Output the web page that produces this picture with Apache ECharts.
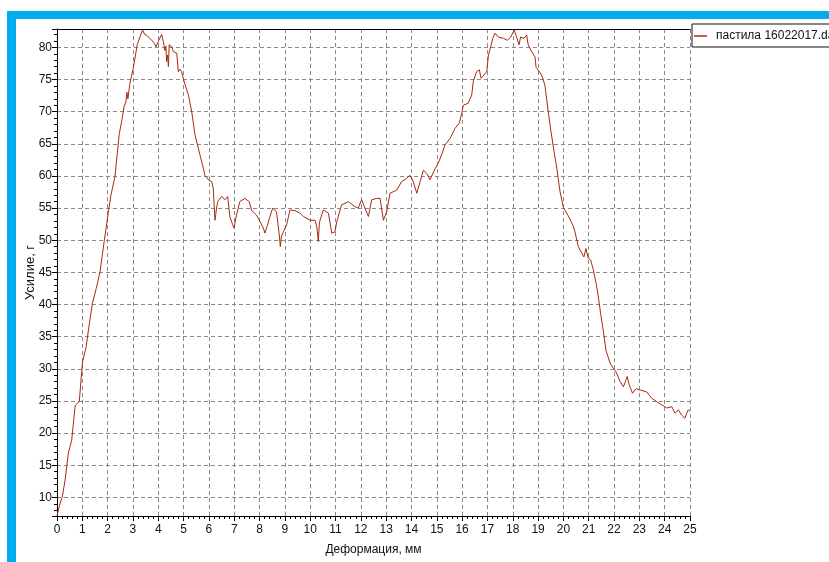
<!DOCTYPE html>
<html>
<head>
<meta charset="utf-8">
<script src="https://cdn.jsdelivr.net/npm/echarts@6/dist/echarts.min.js"></script>
<style>
    html, body { margin: 0; padding: 0; background: #fff; }
    #chart { width: 829px; height: 562px; }
</style>
</head>
<body>
<div id="chart"></div>
<script>
// deformation, mm
const deformation = [
    0.00, 0.12, 0.21, 0.32, 0.45, 0.58, 0.72, 0.80, 0.88, 0.95,
    1.01, 1.15, 1.28, 1.40, 1.55, 1.70, 1.87, 2.03, 2.13, 2.18,
    2.29, 2.38, 2.46, 2.55, 2.65, 2.72, 2.76, 2.80, 2.88, 3.01,
    3.10, 3.17, 3.30, 3.38, 3.46, 3.54, 3.64, 3.74, 3.85, 3.91,
    4.00, 4.13, 4.20, 4.26, 4.30, 4.33, 4.37, 4.40, 4.43, 4.53,
    4.60, 4.66, 4.73, 4.79, 4.85, 4.92, 5.04, 5.19, 5.32, 5.45,
    5.58, 5.65, 5.78, 5.84, 5.98, 6.05, 6.11, 6.17, 6.24, 6.27,
    6.30, 6.35, 6.50, 6.64, 6.74, 6.77, 6.83, 6.94, 6.99, 7.09,
    7.22, 7.42, 7.59, 7.69, 7.88, 7.95, 8.02, 8.15, 8.21, 8.31,
    8.41, 8.52, 8.67, 8.78, 8.82, 8.86, 8.94, 9.07, 9.20, 9.40,
    9.60, 9.73, 9.99, 10.19, 10.26, 10.32, 10.36, 10.39, 10.52, 10.72,
    10.85, 10.98, 11.05, 11.24, 11.51, 11.77, 11.90, 12.03, 12.16, 12.30,
    12.43, 12.63, 12.76, 12.89, 13.02, 13.15, 13.42, 13.61, 13.81, 13.94,
    14.07, 14.21, 14.34, 14.47, 14.60, 14.73, 14.80, 14.93, 15.06, 15.19,
    15.32, 15.52, 15.72, 15.89, 15.98, 16.05, 16.24, 16.38, 16.44, 16.57,
    16.68, 16.75, 16.86, 16.97, 17.04, 17.15, 17.21, 17.30, 17.43, 17.63,
    17.79, 17.92, 18.06, 18.15, 18.25, 18.31, 18.44, 18.55, 18.61, 18.75,
    18.88, 18.92, 18.95, 19.05, 19.14, 19.27, 19.40, 19.51, 19.63, 19.74,
    19.80, 19.87, 20.00, 20.19, 20.39, 20.45, 20.59, 20.72, 20.81, 20.89,
    20.98, 21.08, 21.18, 21.29, 21.38, 21.47, 21.58, 21.68, 21.84, 21.97,
    22.08, 22.24, 22.37, 22.48, 22.52, 22.60, 22.73, 22.87, 23.03, 23.29,
    23.49, 23.68, 23.88, 24.08, 24.28, 24.41, 24.54, 24.67, 24.80, 24.87,
    24.93, 25.00
];

// force, g
const force = [
    7.1, 9.1, 10.1, 12.7, 16.9, 18.9, 24.3, 24.6, 24.9, 28.3,
    31.1, 33.4, 37.1, 40.2, 42.5, 45.1, 50.0, 54.4, 57.0, 57.2,
    59.9, 63.5, 66.6, 68.4, 70.8, 71.5, 73.0, 72.0, 74.4, 76.7,
    78.8, 80.4, 81.9, 82.7, 82.0, 81.9, 81.5, 81.1, 80.6, 80.1,
    80.9, 82.0, 80.9, 79.5, 80.2, 77.8, 78.8, 77.0, 80.4, 80.1,
    79.3, 79.6, 79.1, 76.2, 76.6, 76.2, 74.4, 72.6, 70.0, 66.4,
    64.3, 64.0, 61.2, 60.1, 59.4, 59.1, 59.1, 58.1, 53.1, 54.0,
    55.0, 56.0, 56.8, 56.3, 56.8, 56.8, 53.6, 52.4, 51.9, 53.9,
    56.0, 56.5, 56.0, 54.6, 53.9, 53.9, 52.9, 51.9, 51.1, 52.3,
    53.7, 55.0, 54.4, 50.8, 49.0, 50.5, 51.3, 52.4, 54.7, 54.6,
    54.2, 53.7, 53.1, 53.1, 52.1, 49.8, 52.5, 53.1, 54.7, 54.2,
    51.1, 51.3, 52.9, 55.5, 56.0, 55.2, 55.0, 56.3, 55.0, 53.7,
    56.3, 56.5, 56.5, 53.1, 54.4, 57.3, 57.8, 59.1, 59.6, 60.1,
    59.1, 57.3, 59.1, 60.9, 60.4, 59.4, 59.4, 61.1, 62.0, 63.3,
    64.8, 65.8, 67.4, 68.2, 69.7, 71.0, 71.3, 72.6, 74.7, 76.2,
    76.5, 75.2, 75.7, 76.2, 78.8, 80.4, 81.4, 82.2, 81.6, 81.4,
    81.1, 81.6, 82.7, 81.6, 80.4, 81.6, 81.4, 81.9, 80.4, 79.3,
    78.5, 76.9, 76.7, 76.2, 75.7, 74.1, 70.0, 66.9, 63.8, 61.2,
    59.4, 57.5, 55.1, 53.8, 52.2, 51.4, 49.0, 48.0, 47.4, 48.7,
    47.2, 46.9, 45.4, 43.3, 41.2, 38.6, 35.8, 32.9, 30.9, 30.1,
    29.5, 28.0, 27.2, 28.3, 28.8, 27.5, 26.2, 26.9, 26.7, 26.4,
    25.4, 24.9, 24.4, 23.9, 24.1, 23.1, 23.6, 22.8, 22.3, 23.1,
    23.6, 23.4
];

const seriesName = "пастила 16022017.dat";
const xName = "Деформация, мм";
const yName = "Усилие, г";

const fontFamily = "'Liberation Sans', Arial, sans-serif";
const lineColor = "#a8290f";
const gridLine = { show: true, lineStyle: { color: "#8a8a8a", type: [4, 3], width: 1 } };

const chart = echarts.init(document.getElementById("chart"), null, { renderer: "canvas" });

chart.setOption({
    animation: false,
    backgroundColor: "#fff",
    textStyle: { fontFamily: fontFamily },
    grid: { left: 57, top: 29, right: 139, bottom: 46 },
    graphic: [
        { type: "rect", shape: { x: 7, y: 11, width: 830, height: 8 }, style: { fill: "#00aeef" } },
        { type: "rect", shape: { x: 7, y: 11, width: 9, height: 560 }, style: { fill: "#00aeef" } },
    ],
    legend: {
        left: 692,
        top: 24,
        orient: "vertical",
        borderColor: "#111",
        borderWidth: 1,
        padding: [6, 300, 5, 2],
        icon: "rect",
        itemWidth: 13,
        itemHeight: 1.5,
        textStyle: { fontFamily: fontFamily, fontSize: 12, color: "#111", padding: [0, 0, 0, 4] },
        data: [seriesName],
    },
    xAxis: [
        {
            type: "value",
            min: 0,
            max: 25,
            interval: 1,
            name: xName,
            nameLocation: "middle",
            nameGap: 28,
            nameTextStyle: { fontFamily: fontFamily, fontSize: 12, color: "#111" },
            axisLine: { show: true, onZero: false, lineStyle: { color: "#000", width: 1 } },
            axisTick: { show: true, length: 5, lineStyle: { color: "#000" } },
            minorTick: { show: true, splitNumber: 5, length: 3, lineStyle: { color: "#000" } },
            axisLabel: { fontFamily: fontFamily, fontSize: 12, color: "#111", margin: 8 },
            splitLine: gridLine,
        },
        {
            type: "value",
            position: "top",
            min: 0,
            max: 25,
            axisLine: { show: true, lineStyle: { color: "#000", width: 1 } },
            axisTick: { show: false },
            axisLabel: { show: false },
            splitLine: { show: false },
        },
    ],
    yAxis: {
        type: "value",
        min: 7.1,
        max: 82.85,
        splitNumber: 15,
        minInterval: 5,
        maxInterval: 5,
        name: yName,
        nameLocation: "middle",
        nameGap: 20,
        nameMoveOverlap: false,
        nameTextStyle: { fontFamily: fontFamily, fontSize: 13, color: "#111" },
        axisLine: { show: true, onZero: false, lineStyle: { color: "#000", width: 1 } },
        axisTick: { show: true, length: 5, lineStyle: { color: "#000" } },
        minorTick: { show: true, splitNumber: 5, length: 3, lineStyle: { color: "#000" } },
        axisLabel: { fontFamily: fontFamily, fontSize: 12, color: "#111", margin: 5, showMinLabel: false, showMaxLabel: false },
        splitLine: gridLine,
    },
    series: [
        {
            name: seriesName,
            type: "line",
            symbol: "none",
            color: lineColor,
            lineStyle: { color: lineColor, width: 1 },
            data: deformation.map((d, i) => [d, force[i]]),
        },
    ],
});
</script>
</body>
</html>
